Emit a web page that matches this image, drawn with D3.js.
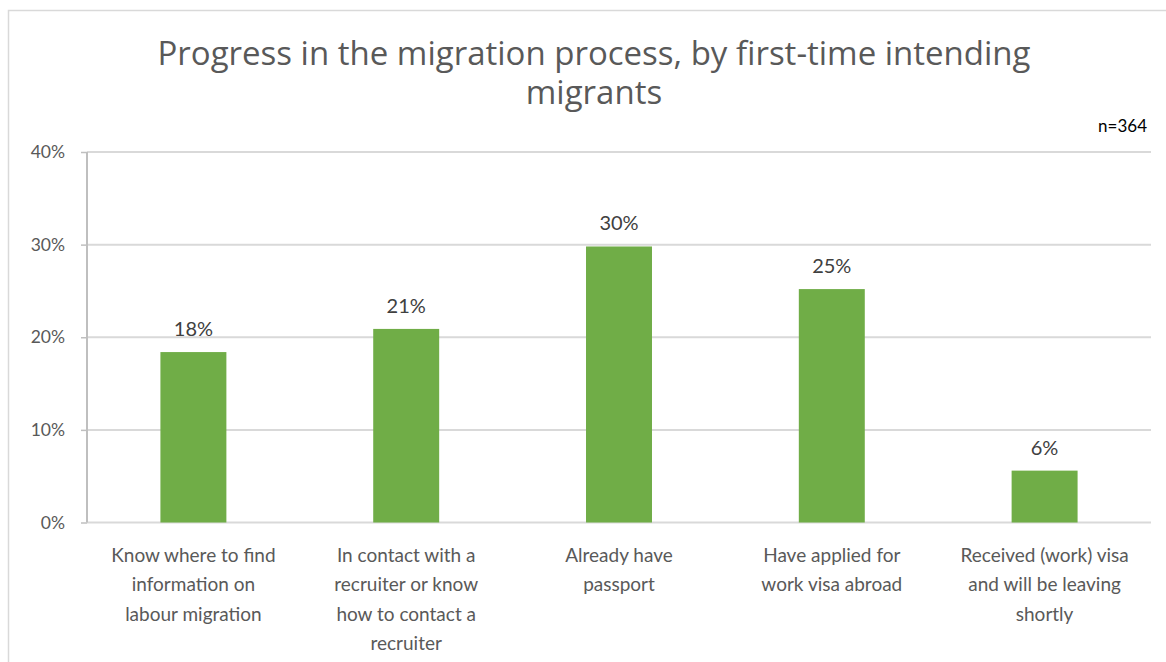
<!DOCTYPE html>
<html>
<head>
<meta charset="utf-8">
<script src="https://cdn.jsdelivr.net/npm/d3@7"></script>
<style>
  html, body { margin: 0; padding: 0; background: #fff; }
  svg { display: block; font-family: Lato, "Open Sans", sans-serif; }
</style>
</head>
<body>
<svg id="chart" width="1166" height="662"></svg>
<script>
// Survey stages (line breaks mark how each label wraps under its bar)
const categories = [
  "Know where to find\ninformation on\nlabour migration",
  "In contact with a\nrecruiter or know\nhow to contact a\nrecruiter",
  "Already have\npassport",
  "Have applied for\nwork visa abroad",
  "Received (work) visa\nand will be leaving\nshortly"
];
// Share of first-time intending migrants at each stage
const shares = [0.184, 0.209, 0.298, 0.252, 0.056];
const yTicks = [0, 0.1, 0.2, 0.3, 0.4];
const titleLines = ["Progress in the migration process, by first-time intending", "migrants"];
const sampleNote = "n=364";

const svg = d3.select("#chart");
const plot = { left: 87, right: 1151, top: 152, bottom: 522.5 };

// chart frame (runs off the right and bottom edges)
svg.append("rect")
  .attr("x", 8.5).attr("y", 10.5)
  .attr("width", 1300).attr("height", 800)
  .attr("fill", "#fff").attr("stroke", "#d9d9d9").attr("stroke-width", 1.5);

const x = d3.scaleBand()
  .domain(d3.range(categories.length))
  .range([plot.left, plot.right])
  .paddingInner(0.69)
  .paddingOuter(0.345);

const y = d3.scaleLinear()
  .domain([0, 0.4])
  .range([plot.bottom, plot.top]);

// gridlines
svg.append("g")
  .selectAll("line")
  .data(yTicks)
  .join("line")
  .attr("x1", plot.left).attr("x2", plot.right)
  .attr("y1", d => y(d)).attr("y2", d => y(d))
  .attr("stroke", "#d9d9d9").attr("stroke-width", 2);

// y axis with outward ticks
const yAxis = d3.axisLeft(y)
  .tickValues(yTicks)
  .tickFormat(d3.format(".0%"))
  .tickSize(6)
  .tickPadding(16);
const gy = svg.append("g")
  .attr("transform", `translate(${plot.left},0)`)
  .call(yAxis);
gy.select(".domain").attr("stroke", "#bfbfbf").attr("stroke-width", 2)
  .attr("d", `M0,${plot.top}V${plot.bottom}`);
gy.selectAll(".tick line").attr("stroke", "#bfbfbf").attr("stroke-width", 1.5);
gy.selectAll(".tick text")
  .attr("fill", "#595959")
  .style("font-size", "17.5px")
  .style("font-family", "Lato, sans-serif");

// bars
svg.append("g")
  .selectAll("rect")
  .data(shares)
  .join("rect")
  .attr("x", (d, i) => x(i))
  .attr("width", x.bandwidth())
  .attr("y", d => y(d))
  .attr("height", d => y(0) - y(d))
  .attr("fill", "#70ad47");

// value labels
svg.append("g")
  .selectAll("text")
  .data(shares)
  .join("text")
  .attr("x", (d, i) => x(i) + x.bandwidth() / 2)
  .attr("y", d => y(d) - 16)
  .attr("text-anchor", "middle")
  .attr("fill", "#404040")
  .style("font-size", "20px")
  .text(d => d3.format(".0%")(d));

// category labels
const catG = svg.append("g")
  .selectAll("text")
  .data(categories)
  .join("text")
  .attr("x", (d, i) => x(i) + x.bandwidth() / 2)
  .attr("y", 562)
  .attr("text-anchor", "middle")
  .attr("fill", "#595959")
  .style("font-size", "19px");
catG.each(function(d, i) {
  const cx = x(i) + x.bandwidth() / 2;
  d3.select(this).selectAll("tspan")
    .data(d.split("\n"))
    .join("tspan")
    .attr("x", cx)
    .attr("dy", (l, k) => k === 0 ? 0 : 29.3)
    .text(l => l);
});

// title, one text element per line
svg.append("g")
  .selectAll("text")
  .data(titleLines)
  .join("text")
  .attr("x", 594)
  .attr("y", (d, i) => 65 + i * 39)
  .attr("text-anchor", "middle")
  .attr("fill", "#595959")
  .style("font-family", "'Open Sans', sans-serif")
  .style("font-size", "33px")
  .text(d => d);

// sample size note
svg.append("text")
  .attr("x", 1147)
  .attr("y", 132)
  .attr("text-anchor", "end")
  .attr("fill", "#000")
  .style("font-size", "17px")
  .text(sampleNote);
</script>
</body>
</html>
